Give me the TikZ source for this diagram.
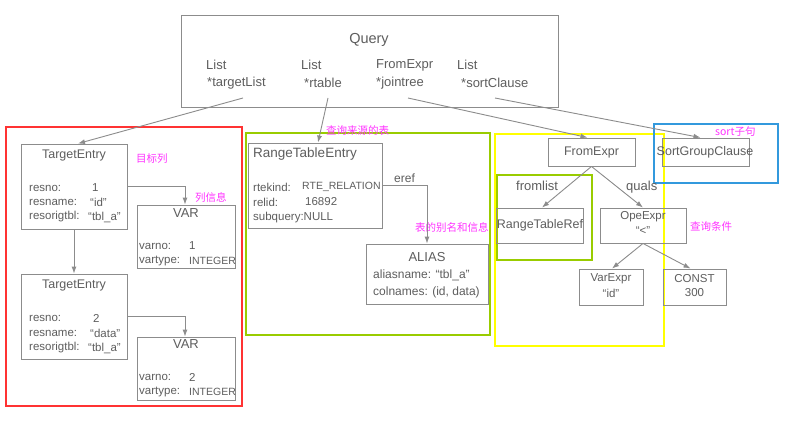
\documentclass[tikz,border=0pt]{standalone}
\usepackage{fontspec}
\setmainfont{Liberation Sans}
\newfontfamily\cjk{Noto Sans CJK SC}
\usetikzlibrary{arrows.meta}
\definecolor{boxline}{HTML}{8C8C8C}
\definecolor{tgray}{HTML}{5E5E5E}
\definecolor{mag}{HTML}{FF33FF}
\definecolor{fred}{HTML}{FF3333}
\definecolor{fgreen}{HTML}{99CC00}
\definecolor{fyellow}{HTML}{FFFF00}
\definecolor{fblue}{HTML}{3399DD}
\begin{document}
\begin{tikzpicture}[x=1pt,y=-1pt,
  box/.style={draw=boxline,line width=0.9pt,rectangle,inner sep=0pt},
  fld/.style={text=tgray,inner sep=0pt,anchor=west,font=\fontsize{11.5}{13}\selectfont},
  caps/.style={text=tgray,inner sep=0pt,anchor=west,font=\fontsize{10.5}{12}\selectfont},
  ttl/.style={text=tgray,inner sep=0pt,font=\fontsize{12.5}{14}\selectfont},
  big/.style={text=tgray,inner sep=0pt,anchor=west,font=\fontsize{13}{15}\selectfont},
  note/.style={text=mag,inner sep=0pt,anchor=west,font=\cjk\fontsize{10.5}{12}\selectfont},
  conn/.style={draw=boxline,line width=0.9pt,-{Latex[length=7pt,width=5pt]}},
  frame/.style={line width=1.8pt}]
\useasboundingbox[fill=white] (0,0) rectangle (788,428);

% group frames
\draw[frame,draw=fred] (6,127) rectangle (242,406);
\draw[frame,draw=fgreen] (246,133) rectangle (490,335);
\draw[frame,draw=fyellow,line width=2.2pt] (495,134) rectangle (664,346);
\draw[frame,draw=fblue] (654,124) rectangle (778,183);
\draw[frame,draw=fgreen] (497,175) rectangle (592,260);

% Query
\node[box,minimum width=377pt,minimum height=92pt] (query) at (369.5,61) {};
\node[ttl,font=\fontsize{14.5}{16}\selectfont] (qt) at (369,40) {Query};
\node[big] (ql1) at (206,65) {List};
\node[big] (ql2) at (207,83) {*targetList};
\node[big] (ql3) at (301,65) {List};
\node[big] (ql4) at (304,83) {*rtable};
\node[big] (ql5) at (376,65) {FromExpr};
\node[big] (ql6) at (376,83) {*jointree};
\node[big] (ql7) at (457,65) {List};
\node[big] (ql8) at (461,83) {*sortClause};
\coordinate (q1) at (243,98);
\coordinate (q2) at (328,98);
\coordinate (q3) at (408,98);
\coordinate (q4) at (495,98);

% TargetEntry 1
\node[box,minimum width=106pt,minimum height=85pt] (te1) at (74,186.5) {};
\node[ttl] (te1t) at (74,155) {TargetEntry};
\node[fld] (te1a) at (29,188) {resno:};
\node[fld] (te1b) at (29,202) {resname:};
\node[fld] (te1c) at (29,217) {resorigtbl:};
\node[fld] (te1d) at (92,188) {1};
\node[fld] (te1e) at (90,202) {“id”};
\node[fld] (te1f) at (88,217) {“tbl\_a”};

% VAR 1
\node[box,minimum width=98pt,minimum height=63pt] (var1) at (186,236.5) {};
\node[ttl,font=\fontsize{13}{15}\selectfont] (var1t) at (186,213) {VAR};
\node[fld] (var1a) at (139,246) {varno:};
\node[fld] (var1b) at (139,261) {vartype:};
\node[fld] (var1c) at (189,246) {1};
\node[caps] (var1d) at (189,261) {INTEGER};

% TargetEntry 2
\node[box,minimum width=106pt,minimum height=85pt] (te2) at (74,316.5) {};
\node[ttl] (te2t) at (74,285) {TargetEntry};
\node[fld] (te2a) at (29,318) {resno:};
\node[fld] (te2b) at (29,333) {resname:};
\node[fld] (te2c) at (29,348) {resorigtbl:};
\node[fld] (te2d) at (93,318) {2};
\node[fld] (te2e) at (90,333) {“data”};
\node[fld] (te2f) at (88,348) {“tbl\_a”};

% VAR 2
\node[box,minimum width=98pt,minimum height=63pt] (var2) at (186,368.5) {};
\node[ttl,font=\fontsize{13}{15}\selectfont] (var2t) at (186,344) {VAR};
\node[fld] (var2a) at (139,377) {varno:};
\node[fld] (var2b) at (139,392) {vartype:};
\node[fld] (var2c) at (189,377) {2};
\node[caps] (var2d) at (189,392) {INTEGER};

% RangeTableEntry
\node[box,minimum width=134pt,minimum height=85pt] (rte) at (315,185.5) {};
\node[big,font=\fontsize{13.5}{15}\selectfont] (rtet) at (253,154) {RangeTableEntry};
\node[fld] (rtea) at (253,187) {rtekind:};
\node[fld] (rteb) at (253,202) {relid:};
\node[fld] (rtec) at (253,218) {subquery:NULL};
\node[caps] (rted) at (302,187) {RTE\_RELATION};
\node[fld] (rtee) at (305,202) {16892};

% ALIAS
\node[box,minimum width=122pt,minimum height=60pt] (alias) at (427,274) {};
\node[ttl,font=\fontsize{13}{15}\selectfont] (aliast) at (427,257) {ALIAS};
\node[fld,font=\fontsize{12}{14}\selectfont] (aliasa) at (373,275) {aliasname: “tbl\_a”};
\node[fld,font=\fontsize{12}{14}\selectfont] (aliasb) at (373,292) {colnames: (id, data)};

% FromExpr tree
\node[box,minimum width=87pt,minimum height=28pt,text=tgray,font=\fontsize{12.5}{14}\selectfont] (fromexpr) at (591.5,152) {FromExpr};
\node[box,minimum width=87pt,minimum height=28pt] (sgc) at (705.5,152) {};
\node[ttl] (sgct) at (705,152) {SortGroupClause};
\node[box,minimum width=86pt,minimum height=35pt,text=tgray,font=\fontsize{12.5}{14}\selectfont] (rtr) at (540,225.5) {RangeTableRef};
\node[box,minimum width=86pt,minimum height=35pt] (ope) at (643,225.5) {};
\node[ttl,font=\fontsize{11.5}{13}\selectfont] (opet) at (643,217) {OpeExpr};
\node[ttl,font=\fontsize{11.5}{13}\selectfont] (opev) at (643,231) {“<”};
\node[box,minimum width=64pt,minimum height=36pt] (varexpr) at (611,287) {};
\node[ttl,font=\fontsize{11.5}{13}\selectfont] (varexprt) at (611,279) {VarExpr};
\node[ttl,font=\fontsize{11.5}{13}\selectfont] (varexprv) at (611,293) {“id”};
\node[box,minimum width=63pt,minimum height=36pt] (const) at (694.5,287) {};
\node[ttl,font=\fontsize{11.5}{13}\selectfont] (constt) at (694.5,279) {CONST};
\node[ttl,font=\fontsize{11.5}{13}\selectfont] (constv) at (694.5,293) {300};

% edge labels
\node[big] (lfromlist) at (516,186) {fromlist};
\node[big] (lquals) at (626,187) {quals};
\node[fld,font=\fontsize{12}{14}\selectfont] (leref) at (394,178) {eref};

% notes
\node[note] (n1) at (136,159) {目标列};
\node[note] (n2) at (195,197) {列信息};
\node[note] (n3) at (326,130) {查询来源的表};
\node[note] (n4) at (415,227) {表的别名和信息};
\node[note] (n5) at (690,226) {查询条件};
\node[note] (n6) at (715,132) {sort子句};

% connectors
\draw[conn] (q1) -- ([xshift=4pt]te1.north);
\draw[conn] (q2) -- ([xshift=3pt]rte.north);
\draw[conn] (q3) -- ([xshift=-4pt]fromexpr.north);
\draw[conn] (q4) -- ([xshift=-5pt]sgc.north);
\draw[conn] (te1.east) -| ([xshift=-1pt]var1.north);
\draw[conn] (te2.east) -| ([xshift=-1pt]var2.north);
\draw[conn] (te1.south) -- (te2.north);
\draw[conn] (rte.east) -| (alias.north);
\draw[conn] (fromexpr.south) -- ([xshift=2pt]rtr.north);
\draw[conn] (fromexpr.south) -- (ope.north);
\draw[conn] (ope.south) -- ([xshift=1pt]varexpr.north);
\draw[conn] (ope.south) -- ([xshift=-4pt]const.north);
\end{tikzpicture}
\end{document}
